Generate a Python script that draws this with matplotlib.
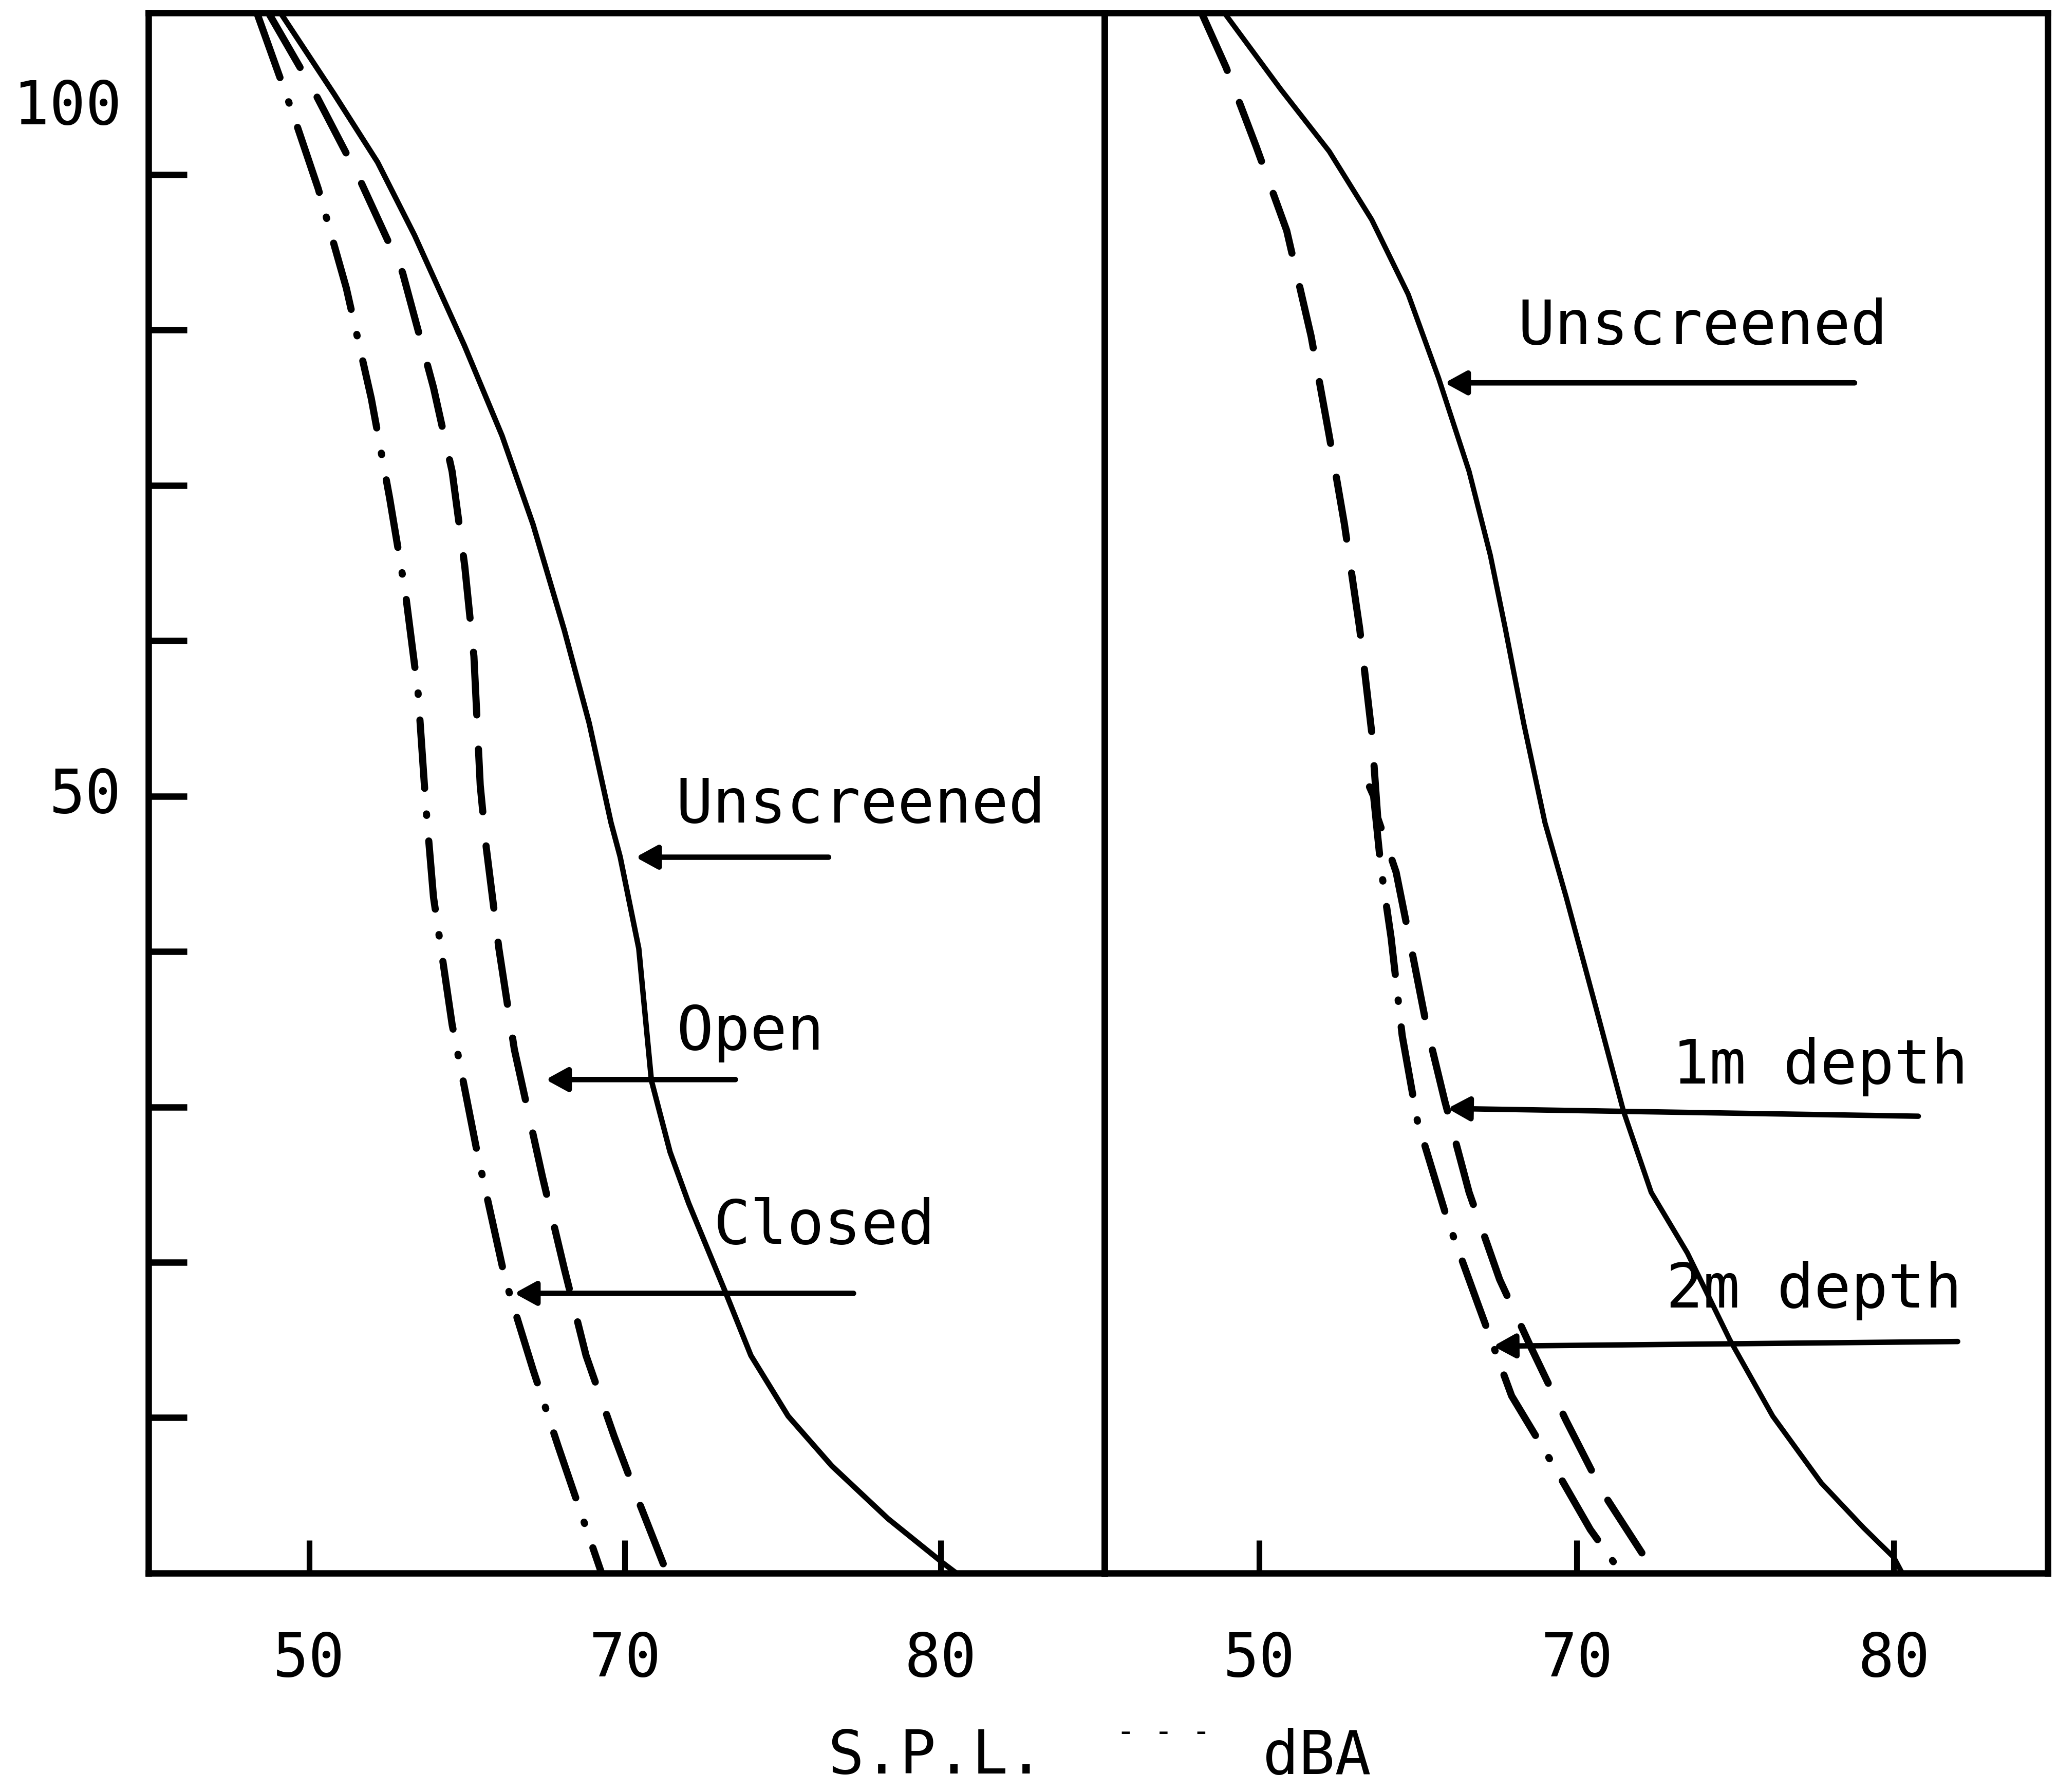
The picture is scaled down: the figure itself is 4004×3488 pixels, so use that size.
import matplotlib.pyplot as plt

plt.rcParams['font.family'] = ['DejaVu Sans Mono', 'DejaVu Sans']
plt.rcParams['lines.scale_dashes'] = False

# axis ticks (x labels are drawn as printed on the sheet)
y_ticks = [10, 20, 30, 40, 50, 60, 70, 80, 90]
y_tick_text = ['50', '100']
y_tick_text_pos = [50, 94.3]
x_ticks = [50, 60, 70]
x_tick_labels = ['50', '70', '80']

# left panel - unscreened / open / closed
left_unscr_x = [49.1, 50.79, 52.17, 53.34, 54.92, 56.11, 57.09, 58.08, 58.87, 59.56,
                59.85, 60.44, 60.84, 61.43, 62.02, 63.20, 63.99, 65.17, 66.55, 68.33,
                70.10, 70.49]
left_unscr_y = [100.4, 95.2, 90.8, 86.1, 79.0, 73.2, 67.5, 60.7, 54.7, 48.3,
                46.1, 40.2, 31.7, 27.1, 23.8, 18.0, 14.0, 10.1, 6.9, 3.5,
                0.6, 0.0]
left_open_x = [48.72, 50.20, 51.58, 52.96, 53.94, 54.53, 54.93, 55.22, 55.42, 55.61,
               56.01, 56.50, 57.39, 58.08, 58.77, 59.66, 60.44, 61.33]
left_open_y = [100.4, 95.2, 89.8, 83.7, 76.3, 70.9, 64.8, 59.0, 50.7, 46.7,
               40.2, 33.7, 25.5, 19.6, 14.0, 8.8, 4.6, 0.0]
left_closed_x = [48.35, 49.51, 50.29, 51.18, 51.97, 52.55, 53.05, 53.45, 53.70, 53.94,
                 54.53, 55.32, 56.21, 57.09, 57.88, 58.67, 59.26]
left_closed_y = [100.4, 93.8, 89.1, 82.7, 75.6, 69.2, 63.1, 56.7, 49.3, 43.5,
                 35.3, 27.1, 18.9, 13.1, 8.2, 3.5, 0.0]

# right panel - unscreened / 1m depth / 2m depth
right_unscr_x = [48.9, 50.67, 52.20, 53.54, 54.69, 55.65, 56.61, 57.28, 57.75, 58.33,
                 59.00, 59.67, 60.62, 61.48, 62.35, 63.49, 64.83, 66.18, 67.71, 69.05,
                 70.00, 70.26]
right_unscr_y = [100.4, 95.5, 91.5, 87.1, 82.3, 76.9, 70.9, 65.5, 60.8, 54.7,
                 48.3, 43.5, 36.3, 29.7, 24.5, 20.6, 15.0, 10.1, 5.8, 2.9,
                 1.0, 0.0]
right_1m_x = [48.18, 48.95, 49.90, 50.86, 51.63, 52.20, 52.68, 53.16, 53.54, 53.73,
              54.31, 54.79, 55.26, 55.84, 56.61, 57.57, 58.52, 59.67, 60.82, 62.15,
              62.32]
right_1m_y = [100.4, 96.9, 91.8, 86.4, 79.6, 73.2, 67.5, 60.8, 54.1, 48.6,
              45.1, 40.2, 35.3, 30.4, 24.5, 18.9, 14.7, 9.8, 5.2, 1.0,
              0.0]
right_2m_x = [53.47, 53.60, 53.83, 54.15, 54.50, 54.98, 55.93, 56.89, 57.95, 59.19,
              60.43, 61.20, 61.33]
right_2m_y = [50.6, 50.0, 45.4, 40.9, 34.6, 29.1, 22.7, 17.3, 11.4, 7.2,
              2.8, 0.6, 0.0]

# labels: (text, x, y) and arrows: (tail x, tail y, head x, head y)
left_notes = [('Unscreened', 61.61, 48.3), ('Open', 61.63, 33.7), ('Closed', 62.81, 21.2)]
left_arrows = [(66.45, 46.07, 60.34, 46.07), (63.50, 31.76, 57.49, 31.76),
               (67.24, 18.0, 56.50, 18.0)]
right_notes = [('Unscreened', 58.14, 79.1), ('1m depth', 63.02, 31.5), ('2m depth', 62.81, 17.1)]
right_arrows = [(68.76, 76.6, 55.84, 76.6), (70.77, 29.4, 55.93, 29.9),
                (72.01, 14.9, 57.37, 14.6)]

dashed = (0, (44, 24))
dashdot = (0, (48, 18, 1.0, 18))

fig = plt.figure(figsize=(20.02, 17.44), dpi=200)
ax1 = fig.add_axes([0.0721, 0.1222, 0.4649, 0.8705])
ax2 = fig.add_axes([0.5370, 0.1222, 0.4585, 0.8705])

ax1.plot(left_unscr_x, left_unscr_y, color='black', lw=3.8, solid_capstyle='round',
         solid_joinstyle='round')
ax1.plot(left_open_x, left_open_y, color='black', lw=5, linestyle=dashed, dash_capstyle='round')
ax1.plot(left_closed_x, left_closed_y, color='black', lw=5, linestyle=dashdot, dash_capstyle='round')

ax2.plot(right_unscr_x, right_unscr_y, color='black', lw=3.6, solid_capstyle='round',
         solid_joinstyle='round')
ax2.plot(right_1m_x, right_1m_y, color='black', lw=5, linestyle=dashed, dash_capstyle='round')
ax2.plot(right_2m_x, right_2m_y, color='black', lw=5, linestyle=dashdot, dash_capstyle='round')

arrow_style = dict(arrowstyle='-|>,head_length=0.42,head_width=0.23', lw=3.8,
                   color='black', mutation_scale=30, shrinkA=0, shrinkB=0)

for ax, notes, arrows in [(ax1, left_notes, left_arrows), (ax2, right_notes, right_arrows)]:
    for txt, x, y in notes:
        ax.text(x, y, txt, fontsize=43, ha='left', va='baseline')
    for x0, y0, x1, y1 in arrows:
        ax.annotate('', xy=(x1, y1), xytext=(x0, y0), arrowprops=arrow_style)

ax1.set_xlim(44.91, 75.19)
ax2.set_xlim(45.12, 74.85)
for ax in (ax1, ax2):
    ax.set_ylim(0, 100.4)
    ax.set_facecolor('none')
    for s in ax.spines.values():
        s.set_linewidth(4.5)
    ax.set_xticks(x_ticks)
    ax.set_xticklabels(x_tick_labels)
    ax.tick_params(axis='x', direction='in', length=23, width=4, pad=40, labelsize=42)

ax1.set_yticks(y_ticks)
ax1.tick_params(axis='y', direction='in', length=27, width=4.5, labelleft=False)
ax2.set_yticks([])

# y labels placed as on the original sheet
for txt, y in zip(y_tick_text, y_tick_text_pos):
    ax1.text(-0.028, y, txt, transform=ax1.get_yaxis_transform(), fontsize=42,
             ha='right', va='center')

fig.text(0.4024, 0.0102, 'S.P.L.', fontsize=42, ha='left', va='baseline')
fig.text(0.5657, 0.033, '- - -', fontsize=22, ha='center', va='center')
fig.text(0.6139, 0.0102, 'dBA', fontsize=42, ha='left', va='baseline')

fig.savefig('out.png', dpi=200, facecolor='white')
